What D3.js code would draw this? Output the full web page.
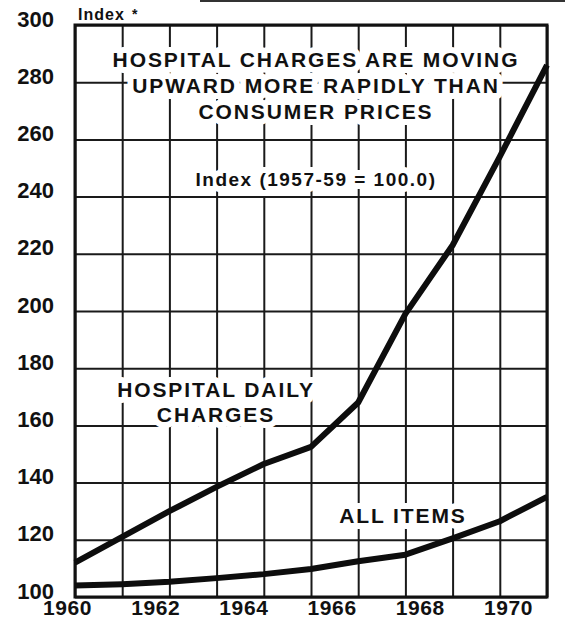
<!DOCTYPE html>
<html>
<head>
<meta charset="utf-8">
<script src="https://cdn.jsdelivr.net/npm/d3@7"></script>
<style>
  body { margin: 0; background: #fff; }
  text { font-family: "Liberation Sans", Arial, Helvetica, sans-serif; font-weight: bold; fill: #111; }
  .halo { stroke: #fff; stroke-width: 12px; stroke-linejoin: round; paint-order: stroke; }
</style>
</head>
<body>
<svg width="565" height="620"></svg>
<script>
(function() {
    const years = [1960, 1961, 1962, 1963, 1964, 1965, 1966, 1967, 1968, 1969, 1970];
    const hospitalCharges = [112, 121, 130, 138.5, 146.5, 152.5, 168, 199, 223, 254, 286];
    const allItems = [104, 104.5, 105.3, 106.6, 108, 109.8, 112.5, 114.8, 120.5, 126.5, 135];
    const yTicks = [100, 120, 140, 160, 180, 200, 220, 240, 260, 280, 300];
    const xTicks = [1960, 1962, 1964, 1966, 1968, 1970];

    const svg = d3.select("svg");

    const x = d3.scaleLinear().domain([1960, 1970]).range([75, 547]);
    const y = d3.scaleLinear().domain([100, 300]).range([597, 25]);
    // the printed year labels drift a little left of the grid
    const xLabel = d3.scaleLinear().domain([1960, 1970]).range([67, 508]);

    const width = x(1970) - x(1960);
    const height = y(100) - y(300);

    // scan edge at the very top
    svg.append("line")
        .attr("x1", 200).attr("x2", 565)
        .attr("y1", 1).attr("y2", 1)
        .attr("stroke", "#333")
        .attr("stroke-width", 2);

    //Horizontal grid
    svg.append("g")
        .attr("class", "grid grid--y")
        .attr("transform", "translate(" + x(1960) + ",0)")
        .call(d3.axisLeft(y).tickValues(yTicks).tickSize(-width).tickFormat(""))
        .call(g => g.select(".domain").remove())
        .selectAll("line")
          .attr("stroke", "#1a1a1a")
          .attr("stroke-width", 2);

    //Vertical grid
    svg.append("g")
        .attr("class", "grid grid--x")
        .attr("transform", "translate(0," + y(100) + ")")
        .call(d3.axisBottom(x).tickValues(years).tickSize(-height).tickFormat(""))
        .call(g => g.select(".domain").remove())
        .selectAll("line")
          .attr("stroke", "#1a1a1a")
          .attr("stroke-width", 2);

    // heavier frame
    svg.append("rect")
        .attr("x", x(1960))
        .attr("y", y(300))
        .attr("width", width)
        .attr("height", height)
        .attr("fill", "none")
        .attr("stroke", "#111")
        .attr("stroke-width", 3);

    //Y Axis labels
    svg.append("g")
        .attr("class", "axis axis--y")
        .attr("transform", "translate(54,0)")
        .call(d3.axisLeft(y).tickValues(yTicks).tickSize(0).tickPadding(0))
        .call(g => g.select(".domain").remove())
        .selectAll("text")
          .attr("dy", "0.05em")
          .style("font-size", "22px")
          .attr("fill", "#111");

    //X Axis labels
    svg.append("g")
        .attr("class", "axis axis--x")
        .attr("transform", "translate(0,600)")
        .call(d3.axisBottom(xLabel).tickValues(xTicks).tickFormat(d3.format("d")).tickSize(0).tickPadding(0))
        .call(g => g.select(".domain").remove())
        .selectAll("text")
          .attr("dy", "0.71em")
          .style("font-size", "21px")
          .style("letter-spacing", "0.6px")
          .attr("fill", "#111");

    // texts with a white knock-out round them, like the print
    function label(lines, cx, y0, lineHeight, size, spacing) {
        const t = svg.append("text")
            .attr("class", "halo")
            .attr("text-anchor", "middle")
            .style("font-size", size + "px")
            .style("letter-spacing", spacing + "px");
        lines.forEach((s, i) => {
            t.append("tspan")
                .attr("x", cx)
                .attr("y", y0 + i * lineHeight)
                .text(s);
        });
    }

    label(["HOSPITAL CHARGES ARE MOVING", "UPWARD MORE RAPIDLY THAN", "CONSUMER PRICES"], 316, 67, 26, 21, 1.9);
    label(["Index (1957-59 = 100.0)"], 316, 186, 0, 19, 1.5);
    label(["HOSPITAL DAILY", "CHARGES"], 216, 397, 25, 21, 1.9);
    label(["ALL ITEMS"], 403, 523, 0, 21, 1.9);

    svg.append("text")
        .attr("x", 78)
        .attr("y", 20)
        .style("font-size", "16px")
        .style("letter-spacing", "1px")
        .text("Index");
    svg.append("text")
        .attr("x", 132)
        .attr("y", 19)
        .style("font-size", "14px")
        .text("*");

    //Series lines
    const line = d3.line()
        .x((d, i) => x(years[i]))
        .y(d => y(d));

    [hospitalCharges, allItems].forEach(series => {
        svg.append("path")
            .datum(series)
            .attr("fill", "none")
            .attr("stroke", "#0d0d0d")
            .attr("stroke-width", 6)
            .attr("stroke-linejoin", "round")
            .attr("d", line);
    });
})();
</script>
</body>
</html>
